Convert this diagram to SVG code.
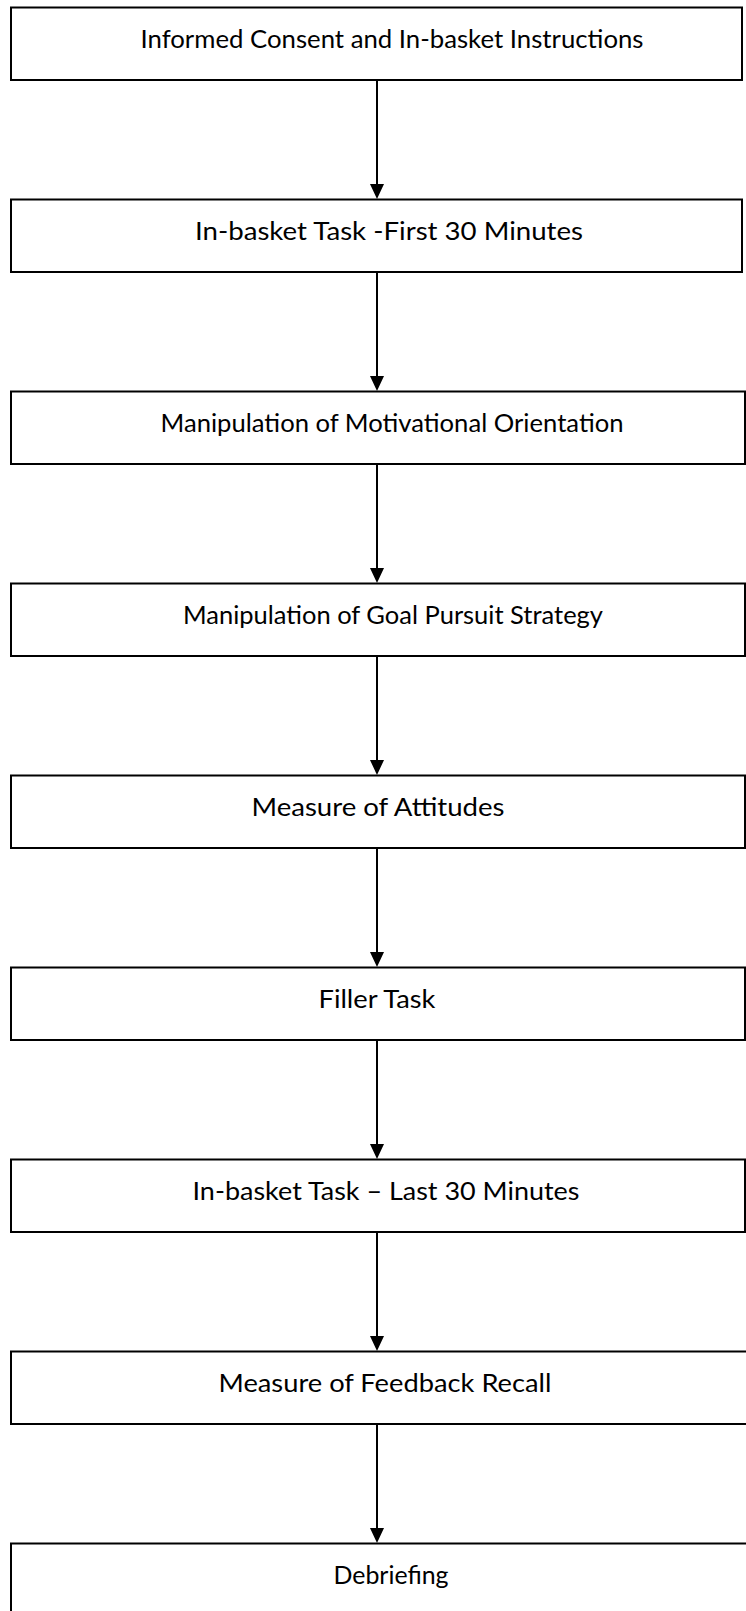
<svg xmlns="http://www.w3.org/2000/svg" width="746" height="1611" viewBox="0 0 746 1611">
<defs>
<style>
.box{fill:#fff;stroke:#000;stroke-width:2}
.lbl{font-family:Lato,"Liberation Sans",sans-serif;font-size:25px;fill:#000;text-anchor:middle}
.con{stroke:#000;stroke-width:2;fill:none}
.ah{fill:#000}
</style>
</defs>
<rect width="746" height="1611" fill="#fff"/>
<g id="connectors">
<line class="con" x1="377" y1="80" x2="377" y2="185"/><path class="ah" d="M370,184 L384,184 L377,199 Z"/>
<line class="con" x1="377" y1="272" x2="377" y2="377"/><path class="ah" d="M370,376 L384,376 L377,391 Z"/>
<line class="con" x1="377" y1="464" x2="377" y2="569"/><path class="ah" d="M370,568 L384,568 L377,583 Z"/>
<line class="con" x1="377" y1="656" x2="377" y2="761"/><path class="ah" d="M370,760 L384,760 L377,775 Z"/>
<line class="con" x1="377" y1="848" x2="377" y2="953"/><path class="ah" d="M370,952 L384,952 L377,967 Z"/>
<line class="con" x1="377" y1="1040" x2="377" y2="1145"/><path class="ah" d="M370,1144 L384,1144 L377,1159 Z"/>
<line class="con" x1="377" y1="1232" x2="377" y2="1337"/><path class="ah" d="M370,1336 L384,1336 L377,1351 Z"/>
<line class="con" x1="377" y1="1424" x2="377" y2="1529"/><path class="ah" d="M370,1528 L384,1528 L377,1543 Z"/>
</g>
<g id="n1"><rect class="box" x="11" y="7.5" width="731" height="72.5"/><text class="lbl" x="392" y="48" textLength="503" lengthAdjust="spacingAndGlyphs">Informed Consent and In-basket Instructions</text></g>
<g id="n2"><rect class="box" x="11" y="199.5" width="731" height="72.5"/><text class="lbl" x="389" y="240" textLength="388" lengthAdjust="spacingAndGlyphs">In-basket Task -First 30 Minutes</text></g>
<g id="n3"><rect class="box" x="11" y="391.5" width="734" height="72.5"/><text class="lbl" x="392" y="432" textLength="463" lengthAdjust="spacingAndGlyphs">Manipulation of Motivational Orientation</text></g>
<g id="n4"><rect class="box" x="11" y="583.5" width="734" height="72.5"/><text class="lbl" x="393" y="624" textLength="420" lengthAdjust="spacingAndGlyphs">Manipulation of Goal Pursuit Strategy</text></g>
<g id="n5"><rect class="box" x="11" y="775.5" width="734" height="72.5"/><text class="lbl" x="378" y="816" textLength="253" lengthAdjust="spacingAndGlyphs">Measure of Attitudes</text></g>
<g id="n6"><rect class="box" x="11" y="967.5" width="734" height="72.5"/><text class="lbl" x="377" y="1008" textLength="117" lengthAdjust="spacingAndGlyphs">Filler Task</text></g>
<g id="n7"><rect class="box" x="11" y="1159.5" width="734" height="72.5"/><text class="lbl" x="386" y="1200" textLength="387" lengthAdjust="spacingAndGlyphs">In-basket Task – Last 30 Minutes</text></g>
<g id="n8"><rect class="box" x="11" y="1351.5" width="740" height="72.5"/><text class="lbl" x="385" y="1392" textLength="333" lengthAdjust="spacingAndGlyphs">Measure of Feedback Recall</text></g>
<g id="n9"><rect class="box" x="11" y="1543.5" width="740" height="80"/><text class="lbl" x="391" y="1584" textLength="115" lengthAdjust="spacingAndGlyphs">Debriefing</text></g>
</svg>
